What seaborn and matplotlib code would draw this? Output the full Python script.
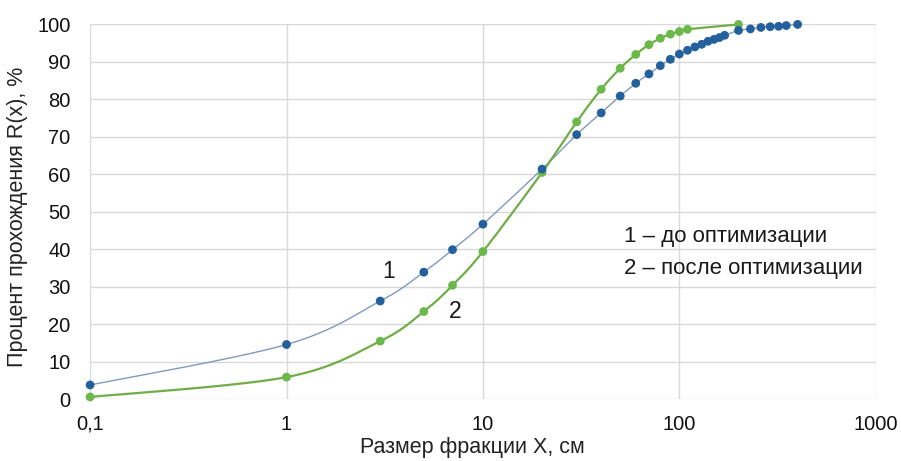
import numpy as np
import pandas as pd
import matplotlib
matplotlib.use('Agg')
import matplotlib.pyplot as plt
import seaborn as sns

# data
size_before = [0.1, 1, 3, 5, 7, 10, 20, 30, 40, 50, 60, 70, 80, 90, 100, 110, 120,
               130, 140, 150, 160, 170, 200, 230, 260, 290, 320, 350, 400]
pass_before = [3.8, 14.6, 26.2, 33.9, 39.9, 46.7, 61.4, 70.6, 76.4, 80.9, 84.3, 86.8,
               89.0, 90.7, 92.1, 93.1, 94.0, 94.7, 95.5, 96.0, 96.5, 97.1, 98.4,
               98.8, 99.2, 99.4, 99.5, 99.7, 100.0]

size_after = [0.1, 1, 3, 5, 7, 10, 20, 30, 40, 50, 60, 70, 80, 90, 100, 110, 200]
pass_after = [0.6, 5.9, 15.5, 23.4, 30.4, 39.4, 60.5, 74.0, 82.7, 88.3, 92.0, 94.6,
              96.3, 97.4, 98.1, 98.7, 100.0]

xticks = [0.1, 1, 10, 100, 1000]
xtick_labels = ['0,1', '1', '10', '100', '1000']
yticks = list(range(0, 101, 10))

sns.set_style('white')
plt.rcParams['font.family'] = ['Liberation Sans', 'DejaVu Sans']


def smooth(xs, ys, n=20):
    # Excel-like smoothed line (Catmull-Rom in log-x space)
    lx = np.log10(np.asarray(xs, float))
    y = np.asarray(ys, float)
    p = np.column_stack([lx, y])
    p = np.vstack([p[0], p, p[-1]])
    out = []
    t = np.linspace(0, 1, n, endpoint=False)[:, None]
    for i in range(1, len(p) - 2):
        p0, p1, p2, p3 = p[i - 1], p[i], p[i + 1], p[i + 2]
        c1 = p1 + (p2 - p0) / 6
        c2 = p2 - (p3 - p1) / 6
        seg = ((1 - t) ** 3) * p1 + 3 * ((1 - t) ** 2) * t * c1 + 3 * (1 - t) * t ** 2 * c2 + t ** 3 * p2
        out.append(seg)
    out.append(p[-2][None, :])
    out = np.vstack(out)
    return 10 ** out[:, 0], out[:, 1]


blue_line = '#8099bd'
blue_mark = '#24609c'
green_line = '#6fae47'
green_mark = '#6db84b'

fig, ax = plt.subplots(figsize=(9.01, 4.61), dpi=100)
fig.subplots_adjust(left=0.1, right=0.972, top=0.947, bottom=0.134)

sx, sy = smooth(size_before, pass_before)
sns.lineplot(x=sx, y=sy, sort=False, color=blue_line, lw=1.0, ax=ax)
gx, gy = smooth(size_after, pass_after)
sns.lineplot(x=gx, y=gy, sort=False, color=green_line, lw=1.6, ax=ax)

sns.scatterplot(x=size_after, y=pass_after, color=green_mark, s=40, edgecolor='none',
                ax=ax, zorder=3, clip_on=False)
sns.scatterplot(x=size_before, y=pass_before, color=blue_mark, s=40, edgecolor='none',
                ax=ax, zorder=4, clip_on=False)

ax.set_xscale('log')
ax.set_xlim(0.1, 1000)
ax.set_ylim(0, 100)
ax.set_xticks(xticks)
ax.set_xticklabels(xtick_labels)
ax.minorticks_off()
ax.set_yticks(yticks)
ax.grid(True, color='#d9d9d9', lw=1)
for s in ax.spines.values():
    s.set_visible(False)
ax.tick_params(axis='y', length=6, color='#d9d9d9', labelsize=14.5, pad=8, labelcolor='#111111')
ax.tick_params(axis='x', length=0, labelsize=14.5, pad=11, labelcolor='#111111')

ax.set_xlabel('Размер фракции X, см', fontsize=15.5, color='#222222')
ax.set_ylabel('Процент прохождения R(x), %', fontsize=15.5, color='#222222')
ax.xaxis.set_label_coords(0.486, -0.10)
ax.yaxis.set_label_coords(-0.079, 0.4875)

ax.text(3.3, 34, '1', fontsize=16.5, color='#1a1a1a', ha='center', va='center')
ax.text(7.2, 23.5, '2', fontsize=16.5, color='#1a1a1a', ha='center', va='center')
ax.text(0.68, 0.435, '1 – до оптимизации', transform=ax.transAxes, fontsize=16,
        color='#1a1a1a', va='center')
ax.text(0.68, 0.35, '2 – после оптимизации', transform=ax.transAxes, fontsize=16,
        color='#1a1a1a', va='center')

fig.savefig('out.png', dpi=100)
